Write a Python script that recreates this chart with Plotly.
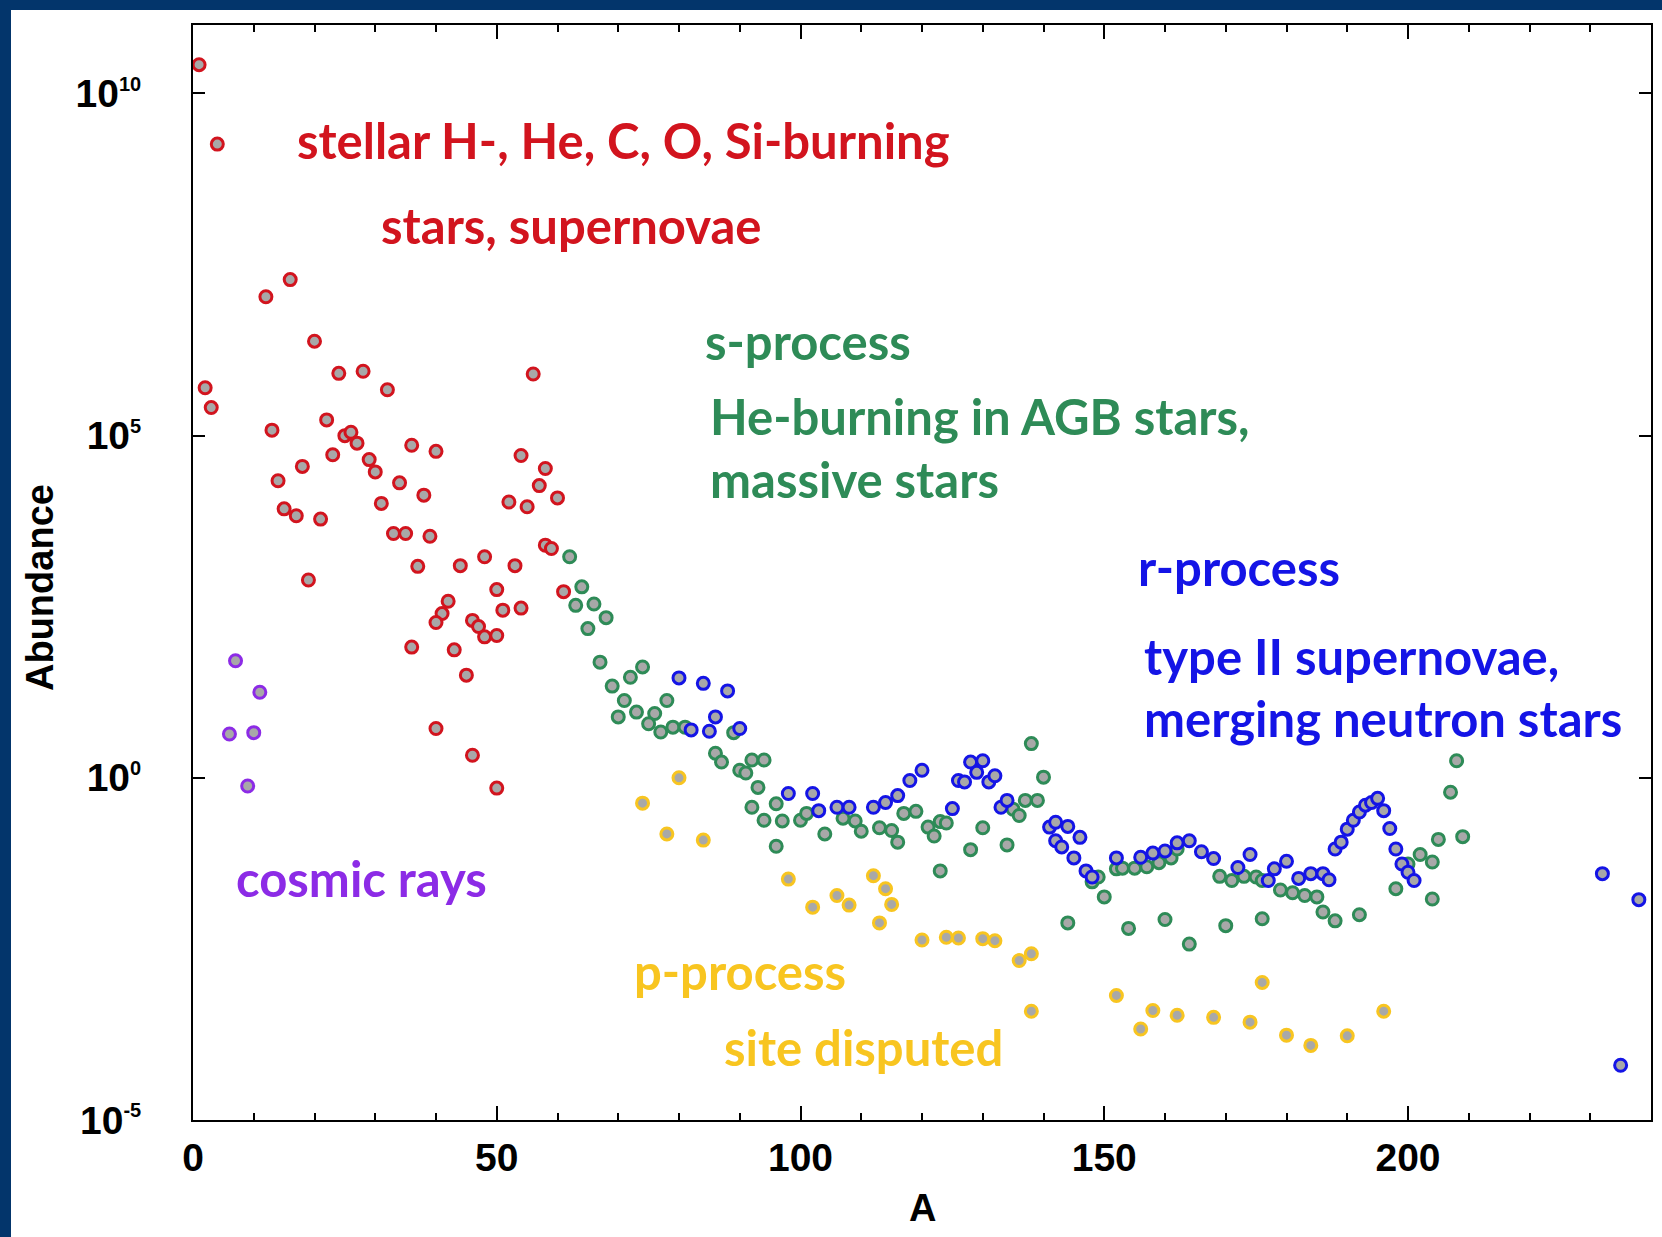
import plotly.graph_objects as go

# ---------------------------------------------------------------------------
# Solar-system isotopic abundances (log10, normalised to Si = 1e6),
# grouped by the dominant production site.
# ---------------------------------------------------------------------------
stellar_A = [1, 4, 12, 16, 20, 2, 3, 24, 28, 32, 56, 13, 22, 25, 26, 27, 36, 40, 54, 23,
             18, 14, 29, 30, 34, 38, 31, 15, 17, 21, 33, 35, 39, 58, 57, 52, 55, 60, 58, 59,
             37, 44, 48, 53, 61, 19, 50, 42, 41, 40, 51, 54, 46, 47, 48, 50, 36, 43, 45, 40,
             46, 50]
stellar_log = [10.42, 9.26, 7.03, 7.28, 6.38, 5.70, 5.41, 5.91, 5.94, 5.67, 5.90, 5.08, 5.23,
               5.00, 5.05, 4.89, 4.86, 4.77, 4.71, 4.72, 4.55, 4.34, 4.65, 4.47, 4.31, 4.13,
               4.01, 3.93, 3.83, 3.78, 3.57, 3.57, 3.53, 4.52, 4.27, 4.03, 3.96, 4.09, 3.40,
               3.35, 3.09, 3.10, 3.23, 3.10, 2.72, 2.89, 2.75, 2.58, 2.40, 2.27, 2.45, 2.48,
               2.30, 2.21, 2.06, 2.08, 1.91, 1.87, 1.50, 0.72, 0.33, -0.15]

cosmic_A = [6, 7, 9, 10, 11]
cosmic_log = [0.64, 1.71, -0.12, 0.66, 1.25]

s_A = [62, 64, 63, 66, 68, 65, 67, 69, 72, 74, 71, 70, 73, 76, 75, 78, 77, 79, 81, 86, 87, 89,
       90, 91, 92, 94, 93,
       92, 94, 96, 97, 100, 101, 96, 104,
       107, 109, 110, 113, 115, 116, 117, 119,
       121, 122, 123, 124, 123, 128, 130, 134,
       135, 136, 137, 139, 138, 140,
       148, 149, 150, 152, 153, 155, 157, 159, 161, 162,
       169, 171, 173, 175, 176, 179, 181, 183, 185, 186, 188, 192,
       198, 200, 202, 204, 205, 207, 208, 209, 204,
       144, 154, 160, 164, 170, 176]
s_log = [3.23, 2.79, 2.52, 2.54, 2.34, 2.18, 1.69, 1.34, 1.47, 1.62, 1.13, 0.89, 0.96, 0.94,
         0.79, 1.13, 0.67, 0.74, 0.74, 0.36, 0.23, 0.66,
         0.11, 0.07, 0.26, 0.26, -0.14,
         -0.43, -0.62, -0.38, -0.63, -0.62, -0.52, -1.00, -0.82,
         -0.59, -0.63, -0.78, -0.73, -0.77, -0.94, -0.52, -0.49,
         -0.72, -0.85, -0.64, -0.66, -1.36, -1.05, -0.73, -0.98,
         -0.46, -0.55, -0.33, -0.33, 0.50, 0.01,
         -1.52, -1.45, -1.74, -1.33, -1.32, -1.32, -1.30, -1.24, -1.17, -1.04,
         -1.44, -1.50, -1.44, -1.45, -1.50, -1.64, -1.68, -1.72, -1.74, -1.96, -2.09, -2.00,
         -1.62, -1.26, -1.12, -1.23, -0.90, -0.21, 0.25, -0.86, -1.77,
         -2.12, -2.20, -2.07, -2.43, -2.16, -2.06]

r_A = [80, 84, 88, 86, 82, 85, 90,
       98, 102, 103, 106, 108, 112, 114, 116, 118, 120,
       125, 126, 127, 128, 129, 130, 131, 132, 133, 134,
       141, 142, 144, 146, 142, 143, 145, 147, 148, 152, 156, 158, 160, 162, 164, 166, 168,
       172, 174, 177, 178, 180, 182, 184, 186, 187,
       188, 189, 190, 191, 192, 193, 194, 195, 196, 197, 198, 199, 200, 201,
       232, 238, 235]
r_log = [1.46, 1.38, 1.27, 0.89, 0.70, 0.68, 0.72,
         -0.23, -0.23, -0.48, -0.43, -0.43, -0.43, -0.36, -0.26, -0.04, 0.11,
         -0.45, -0.04, -0.06, 0.23, 0.08, 0.25, -0.06, 0.03, -0.43, -0.33,
         -0.72, -0.65, -0.71, -0.87, -0.92, -1.01, -1.17, -1.36, -1.45, -1.17, -1.16, -1.10,
         -1.07, -0.95, -0.92, -1.08, -1.18,
         -1.31, -1.12, -1.50, -1.33, -1.22, -1.47, -1.40, -1.40, -1.49,
         -1.04, -0.94, -0.75, -0.62, -0.50, -0.40, -0.36, -0.30, -0.48, -0.74, -1.04, -1.26,
         -1.38, -1.50,
         -1.40, -1.78, -4.20]

p_A = [74, 80, 78, 84, 98, 102, 106, 108, 112, 114, 115, 113, 120, 124, 126, 130, 132, 136,
       138, 138, 152, 156, 158, 162, 168, 174, 176, 180, 184, 190, 196]
p_log = [-0.37, 0.00, -0.82, -0.91, -1.48, -1.89, -1.72, -1.86, -1.43, -1.62, -1.85, -2.12,
         -2.37, -2.33, -2.34, -2.35, -2.38, -2.67, -2.57, -3.41, -3.18, -3.67, -3.40, -3.47,
         -3.50, -3.57, -2.99, -3.76, -3.91, -3.77, -3.41]

x_tick_vals = [0, 50, 100, 150, 200]
x_tick_text = ["0", "50", "100", "150", "200"]
y_tick_vals = [1e-5, 1e0, 1e5, 1e10]
y_tick_exps = ["-5", "0", "5", "10"]

# colours of the production sites
RED = "#d2141e"
GREEN = "#2e8b57"
BLUE = "#1414e6"
PURPLE = "#8c2be6"
GOLD = "#f8c520"
NAVY = "#03356b"
FILL = "#a8a8a8"

# figure geometry (pixels)
W, H = 1662, 1237
PLOT_L, PLOT_R, PLOT_T, PLOT_B = 193, 1651, 25, 1120
PLOT_W = PLOT_R - PLOT_L
PLOT_H = PLOT_B - PLOT_T


def px(xpix):
    return (xpix - PLOT_L) / PLOT_W


def py(ypix):
    return (PLOT_B - ypix) / PLOT_H


fig = go.Figure()

groups = [
    ("s-process", s_A, s_log, GREEN),
    ("r-process", r_A, r_log, BLUE),
    ("stellar burning", stellar_A, stellar_log, RED),
    ("cosmic rays", cosmic_A, cosmic_log, PURPLE),
    ("p-process", p_A, p_log, GOLD),
]
for name, a_vals, logs, col in groups:
    fig.add_trace(go.Scatter(
        x=a_vals,
        y=[10 ** v for v in logs],
        mode="markers",
        name=name,
        showlegend=False,
        marker=dict(symbol="circle", size=12, color=FILL,
                    line=dict(color=col, width=3)),
    ))

TICK_FONT = dict(family="Liberation Sans, Arial, sans-serif", size=39, color="black", weight="bold")
LABEL_FAMILY = "Lato, sans-serif"
LABEL_SIZE = 49

fig.update_xaxes(
    range=[0, 240], showgrid=False, zeroline=False,
    showline=True, linecolor="black", linewidth=2, mirror="allticks",
    ticks="inside", ticklen=14, tickwidth=2, tickcolor="black",
    tickmode="array", tickvals=x_tick_vals, ticktext=x_tick_text,
    minor=dict(tickmode="linear", tick0=0, dtick=10, ticks="inside",
               ticklen=7, tickwidth=2, tickcolor="black"),
    tickfont=TICK_FONT, ticklabelstandoff=2,
)
fig.update_yaxes(
    type="log", range=[-5, 11], showgrid=False, zeroline=False,
    showline=True, linecolor="black", linewidth=2, mirror="allticks",
    ticks="inside", ticklen=12, tickwidth=2, tickcolor="black",
    tickmode="array", tickvals=y_tick_vals,
    ticktext=["10<sup><span style='font-size:20px'>%s</span></sup>" % e for e in y_tick_exps],
    tickfont=TICK_FONT, ticklabelstandoff=42,
)

# white page inside the navy frame
fig.add_shape(type="rect", xref="paper", yref="paper", layer="below",
              x0=px(11), x1=px(W + 40), y0=py(H + 60), y1=py(10),
              fillcolor="white", line=dict(width=0))

# region labels: (text, left x px, baseline y px, colour)
labels = [
    ("stellar H-, He, C, O, Si-burning", 295, 159, RED),
    ("stars, supernovae", 379, 244, RED),
    ("s-process", 703, 360, GREEN),
    ("He-burning in AGB stars,", 708, 435, GREEN),
    ("massive stars", 708, 498, GREEN),
    ("r-process", 1136, 586, BLUE),
    ("type II supernovae,", 1142, 675, BLUE),
    ("merging neutron stars", 1142, 737, BLUE),
    ("cosmic rays", 234, 897, PURPLE),
    ("p-process", 632, 990, GOLD),
    ("site disputed", 722, 1066, GOLD),
]
for text, xl, base, col in labels:
    fig.add_annotation(
        text=text,
        xref="paper", yref="paper", x=px(xl), y=py(base - 19),
        xanchor="left", yanchor="middle", showarrow=False,
        font=dict(family=LABEL_FAMILY, size=LABEL_SIZE, color=col, weight="bold"),
    )

# axis titles
fig.add_annotation(text="Abundance", xref="paper", yref="paper", x=px(40), y=py(588),
                   xanchor="center", yanchor="middle", textangle=-90, showarrow=False,
                   font=dict(family="Liberation Sans, Arial, sans-serif", size=38,
                             color="black", weight="bold"))
fig.add_annotation(text="A", xref="paper", yref="paper", x=px(922), y=py(1208),
                   xanchor="center", yanchor="middle", showarrow=False,
                   font=dict(family="Liberation Sans, Arial, sans-serif", size=38,
                             color="black", weight="bold"))

fig.update_layout(
    width=W, height=H,
    margin=dict(l=PLOT_L, r=W - PLOT_R, t=PLOT_T, b=H - PLOT_B, autoexpand=False),
    paper_bgcolor=NAVY, plot_bgcolor="white",
    showlegend=False,
)

fig.write_html("out.html")
